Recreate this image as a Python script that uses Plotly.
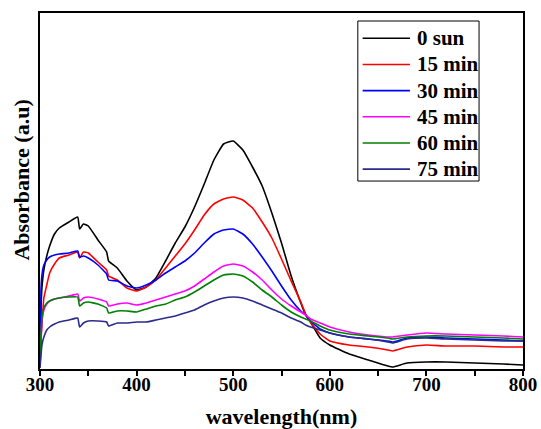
import plotly.graph_objects as go

wavelength = [300, 301, 302, 304, 307, 310, 315, 320, 330, 339, 341, 345, 350, 360, 369, 371,
              380, 390, 400, 410, 420, 430, 440, 450, 460, 470, 480, 490, 500, 510, 520, 530,
              540, 550, 560, 570, 575, 580, 590, 600, 620, 640, 660, 665, 680, 700, 720, 750,
              780, 800]

abs_0sun = [0.04, 0.59, 0.81, 0.99, 1.13, 1.23, 1.35, 1.41, 1.47, 1.52, 1.40, 1.45, 1.43, 1.29, 1.17, 1.08,
            1.01, 0.88, 0.79, 0.82, 0.91, 1.08, 1.26, 1.42, 1.62, 1.85, 2.09, 2.25, 2.28, 2.19, 2.02, 1.83,
            1.56, 1.26, 0.93, 0.66, 0.54, 0.47, 0.31, 0.24, 0.15, 0.09, 0.03, 0.02, 0.06, 0.07, 0.07, 0.06,
            0.05, 0.04]
abs_15 = [0.03, 0.29, 0.44, 0.71, 0.84, 0.96, 1.05, 1.11, 1.14, 1.17, 1.11, 1.17, 1.16, 1.07, 0.99, 0.93,
          0.89, 0.81, 0.78, 0.82, 0.89, 1.01, 1.13, 1.25, 1.39, 1.54, 1.65, 1.70, 1.72, 1.69, 1.61, 1.47,
          1.31, 1.10, 0.88, 0.67, 0.55, 0.47, 0.35, 0.28, 0.24, 0.22, 0.19, 0.18, 0.22, 0.24, 0.23, 0.23,
          0.22, 0.22]
abs_30 = [0.03, 0.79, 0.94, 1.04, 1.09, 1.12, 1.14, 1.15, 1.16, 1.18, 1.12, 1.13, 1.11, 1.04, 0.95, 0.89,
          0.88, 0.83, 0.81, 0.84, 0.89, 0.96, 1.02, 1.08, 1.16, 1.26, 1.35, 1.39, 1.40, 1.35, 1.25, 1.12,
          0.98, 0.83, 0.69, 0.58, 0.54, 0.48, 0.40, 0.36, 0.32, 0.30, 0.28, 0.27, 0.31, 0.32, 0.31, 0.30,
          0.29, 0.28]
abs_45 = [0.02, 0.29, 0.49, 0.59, 0.65, 0.68, 0.70, 0.71, 0.73, 0.75, 0.68, 0.71, 0.72, 0.70, 0.67, 0.63,
          0.65, 0.66, 0.64, 0.66, 0.69, 0.72, 0.75, 0.78, 0.83, 0.90, 0.97, 1.03, 1.05, 1.03, 0.97, 0.89,
          0.79, 0.70, 0.63, 0.57, 0.54, 0.50, 0.46, 0.42, 0.37, 0.34, 0.32, 0.32, 0.34, 0.36, 0.35, 0.34,
          0.33, 0.32]
abs_60 = [0.02, 0.34, 0.51, 0.61, 0.66, 0.68, 0.70, 0.71, 0.72, 0.72, 0.63, 0.66, 0.67, 0.65, 0.61, 0.56,
          0.58, 0.58, 0.57, 0.60, 0.63, 0.65, 0.69, 0.72, 0.77, 0.83, 0.89, 0.94, 0.95, 0.93, 0.87, 0.79,
          0.72, 0.64, 0.57, 0.52, 0.50, 0.48, 0.43, 0.39, 0.35, 0.33, 0.31, 0.30, 0.32, 0.33, 0.33, 0.32,
          0.31, 0.30]
abs_75 = [0.01, 0.14, 0.24, 0.32, 0.39, 0.42, 0.45, 0.47, 0.49, 0.51, 0.42, 0.46, 0.48, 0.48, 0.47, 0.43,
          0.46, 0.46, 0.47, 0.47, 0.49, 0.51, 0.53, 0.56, 0.59, 0.64, 0.68, 0.71, 0.72, 0.71, 0.68, 0.64,
          0.60, 0.56, 0.51, 0.47, 0.44, 0.42, 0.39, 0.36, 0.32, 0.30, 0.27, 0.26, 0.30, 0.31, 0.30, 0.29,
          0.28, 0.28]

series_names = ["0 sun", "15 min", "30 min", "45 min", "60 min", "75 min"]
series_values = [abs_0sun, abs_15, abs_30, abs_45, abs_60, abs_75]
colors = ["#000000", "#FF0000", "#0000FF", "#FF00FF", "#008000", "#2B2B8C"]

x_tick_vals = [300, 400, 500, 600, 700, 800]

FONT = "Liberation Serif, Times New Roman, serif"

fig = go.Figure()
for name, vals, col in zip(series_names, series_values, colors):
    fig.add_trace(go.Scatter(x=wavelength, y=vals, mode="lines", name=name, showlegend=False,
                             line=dict(color=col, width=1.6, shape="spline", smoothing=0.4)))

# legend box drawn in paper coordinates (boxed, long sample lines as in the original)
shapes = [dict(type="rect", xref="paper", yref="paper", x0=0.658, x1=0.909, y0=0.528, y1=0.9775,
               line=dict(color="black", width=1), fillcolor="white", layer="above")]
annotations = []
row_top, row_step = 0.929, 0.0735
for i, (name, col) in enumerate(zip(series_names, colors)):
    yy = row_top - i * row_step
    shapes.append(dict(type="line", xref="paper", yref="paper", x0=0.668, x1=0.766, y0=yy, y1=yy,
                       line=dict(color=col, width=1.6), layer="above"))
    annotations.append(dict(xref="paper", yref="paper", x=0.776, y=yy, xanchor="left", yanchor="middle",
                            text=name, showarrow=False,
                            font=dict(family=FONT, size=21, color="black", weight="bold")))

annotations.append(dict(xref="paper", yref="paper", x=-0.038, y=0.531, xanchor="center", yanchor="middle",
                        text="Absorbance (a.u)", textangle=-90, showarrow=False,
                        font=dict(family=FONT, size=22, color="black", weight="bold")))

fig.update_layout(
    width=541, height=429,
    margin=dict(l=40, r=18, t=13, b=60),
    paper_bgcolor="white", plot_bgcolor="white",
    font=dict(family=FONT, color="black"),
    showlegend=False,
    shapes=shapes,
    annotations=annotations,
    xaxis=dict(range=[300, 800], tickvals=x_tick_vals, ticktext=[str(v) for v in x_tick_vals],
               ticks="outside", ticklen=5, tickwidth=1.5, tickcolor="black",
               ticklabelstandoff=-8,
               minor=dict(dtick=50, tick0=300, ticks="outside", ticklen=5, tickwidth=1.5, tickcolor="black"),
               showline=True, linecolor="black", linewidth=1.5, mirror=True,
               showgrid=False, zeroline=False,
               tickfont=dict(family=FONT, size=19, color="black", weight="bold"),
               title=dict(text="wavelength(nm)", standoff=17,
                          font=dict(family=FONT, size=22, color="black", weight="bold")),
               automargin=False),
    yaxis=dict(range=[0, 3.56], showticklabels=False, ticks="",
               showline=True, linecolor="black", linewidth=1.5, mirror=True,
               showgrid=False, zeroline=False, automargin=False),
)

fig.write_html("out.html", config={"displayModeBar": False},
               post_script="document.body.style.margin='0';document.body.style.overflow='hidden';")
